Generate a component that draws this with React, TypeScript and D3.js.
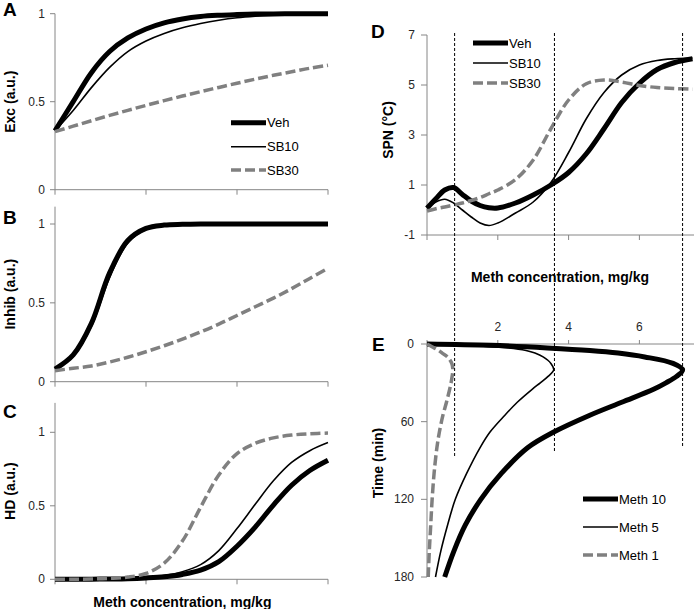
import React from "react";
import * as d3 from "d3";

// ---------- data ----------
const concGrid = [0, 0.5, 1, 1.5, 2, 2.5, 3, 3.5, 4, 4.5, 5, 5.5, 6, 6.5, 7, 7.5];
const excVeh = [0.335, 0.5, 0.665, 0.785, 0.862, 0.913, 0.948, 0.97, 0.984, 0.991, 0.995, 0.998, 0.999, 1.0, 1.0, 1.0];
const excSB10 = [0.335, 0.45, 0.58, 0.695, 0.785, 0.845, 0.888, 0.92, 0.944, 0.963, 0.977, 0.986, 0.992, 0.996, 0.999, 1.0];
const excSB30 = [0.33, 0.361, 0.392, 0.422, 0.451, 0.479, 0.506, 0.532, 0.557, 0.581, 0.605, 0.628, 0.65, 0.67, 0.69, 0.707];

const inhibVeh = [0.08, 0.17, 0.37, 0.69, 0.895, 0.972, 0.993, 0.998, 1.0, 1.0, 1.0, 1.0, 1.0, 1.0, 1.0, 1.0];
const inhibSB10 = [0.08, 0.16, 0.35, 0.66, 0.88, 0.965, 0.99, 0.997, 1.0, 1.0, 1.0, 1.0, 1.0, 1.0, 1.0, 1.0];
const inhibSB30 = [0.07, 0.085, 0.1, 0.125, 0.155, 0.19, 0.228, 0.27, 0.315, 0.365, 0.42, 0.475, 0.53, 0.59, 0.655, 0.72];

const hdVeh = [0, 0, 0.001, 0.002, 0.004, 0.009, 0.017, 0.033, 0.062, 0.12, 0.225, 0.355, 0.505, 0.64, 0.74, 0.81];
const hdSB10 = [0, 0, 0.001, 0.003, 0.005, 0.012, 0.026, 0.052, 0.1, 0.195, 0.345, 0.51, 0.67, 0.795, 0.875, 0.93];
const hdSB30 = [0, 0, 0.002, 0.006, 0.015, 0.04, 0.11, 0.26, 0.49, 0.71, 0.855, 0.925, 0.962, 0.981, 0.99, 0.995];

const spnGrid = [0, 0.25, 0.5, 0.75, 1, 1.25, 1.5, 1.75, 2, 2.5, 3, 3.5, 4, 4.5, 5, 5.5, 6, 6.5, 7, 7.5];
const spnVeh = [0.07, 0.45, 0.8, 0.9, 0.62, 0.36, 0.18, 0.09, 0.08, 0.28, 0.6, 1.0, 1.5, 2.25, 3.25, 4.3, 5.07, 5.62, 5.9, 6.05];
const spnSB10 = [0.07, 0.32, 0.43, 0.28, 0.0, -0.28, -0.52, -0.62, -0.52, -0.12, 0.32, 1.1, 2.3, 3.65, 4.7, 5.4, 5.8, 5.98, 6.05, 6.08];
const spnSB30 = [-0.04, 0.05, 0.12, 0.2, 0.28, 0.38, 0.5, 0.65, 0.8, 1.22, 2.0, 3.25, 4.4, 5.05, 5.2, 5.12, 4.98, 4.9, 4.86, 4.83];

const timeGrid = [0, 1, 3, 5, 7, 10, 15, 20, 25, 30, 35, 45, 55, 68, 80, 100, 120, 140, 160, 180];
const meth10 = [0, 1.8, 3.4, 4.6, 5.4, 6.15, 6.95, 7.22, 7.05, 6.75, 6.4, 5.5, 4.6, 3.58, 2.85, 2.1, 1.52, 1.08, 0.76, 0.5];
const meth5 = [0, 1.0, 2.3, 2.8, 3.05, 3.28, 3.5, 3.58, 3.42, 3.2, 2.97, 2.55, 2.2, 1.78, 1.5, 1.12, 0.8, 0.58, 0.39, 0.24];
const meth1 = [0, 0.07, 0.2, 0.33, 0.43, 0.58, 0.7, 0.73, 0.71, 0.68, 0.64, 0.55, 0.45, 0.35, 0.28, 0.2, 0.145, 0.105, 0.065, 0.035];

const peakConc = [0.78, 3.6, 7.22];
const peakLineEnd = [87, 83, 80];

const leftXTicks = [0, 2.5, 5, 7.5];
const unitTicks = [0, 0.5, 1];
const spnTicks = [-1, 1, 3, 5, 7];
const concTicks = [0, 2, 4, 6];
const concLabels = [2, 4, 6];
const timeTicks = [0, 60, 120, 180];

const seriesNames = ["Veh", "SB10", "SB30"];
const methNames = ["Meth 10", "Meth 5", "Meth 1"];

// ---------- styles ----------
const AXIS = "#868686";
const TICKTXT = "#262626";
const FONT = "'Liberation Sans', Arial, sans-serif";
const styles = [
  { stroke: "#000", width: 5, dash: undefined as string | undefined },
  { stroke: "#000", width: 1.6, dash: undefined as string | undefined },
  { stroke: "#808080", width: 3.5, dash: "10,4" },
];
const smooth = d3.curveCatmullRom.alpha(0.5);

function lineOn(xs: number[], ys: number[], xScale: any, yScale: any) {
  const pts = xs.map((x, i) => [x, ys[i]] as [number, number]);
  return d3.line<[number, number]>().x((d) => xScale(d[0])).y((d) => yScale(d[1])).curve(smooth)(pts) || "";
}

function LeftPanel(props: {
  yScale: any; top: number; series: number[][]; title: string; letter: string; letterY: number; xScale: any;
}) {
  const { yScale, top, series, title, letter, letterY, xScale } = props;
  const y0 = yScale(0);
  const x0 = xScale(0);
  const midY = (top + y0) / 2;
  return (
    <g>
      <text x={3} y={letterY} fontFamily={FONT} fontWeight="bold" fontSize={19}>{letter}</text>
      <text transform={`translate(15,${midY}) rotate(-90)`} textAnchor="middle" fontFamily={FONT} fontWeight="bold" fontSize={14}>{title}</text>
      <line x1={x0} x2={x0} y1={top} y2={y0} stroke={AXIS} />
      <line x1={x0} x2={xScale(7.5)} y1={y0} y2={y0} stroke={AXIS} />
      {unitTicks.map((t) => (
        <g key={t}>
          <line x1={x0 - 5} x2={x0} y1={yScale(t)} y2={yScale(t)} stroke={AXIS} />
          <text x={x0 - 10} y={yScale(t) + 4} textAnchor="end" fontFamily={FONT} fontSize={12} fill={TICKTXT}>{t}</text>
        </g>
      ))}
      {leftXTicks.map((t) => (
        <line key={t} x1={xScale(t)} x2={xScale(t)} y1={y0} y2={y0 + 5} stroke={AXIS} />
      ))}
      {series.map((s, i) => (
        <path key={i} d={lineOn(concGrid, s, xScale, yScale)} fill="none"
          stroke={styles[i].stroke} strokeWidth={styles[i].width} strokeDasharray={styles[i].dash} strokeLinejoin="round" />
      ))}
    </g>
  );
}

function Legend(props: { x: number; ys: number[]; names: string[] }) {
  const { x, ys, names } = props;
  return (
    <g>
      {names.map((n, i) => (
        <g key={n}>
          <line x1={x} x2={x + 35} y1={ys[i]} y2={ys[i]} stroke={styles[i].stroke} strokeWidth={styles[i].width} strokeDasharray={styles[i].dash} />
          <text x={x + 36} y={ys[i] + 4.5} fontFamily={FONT} fontSize={13} fill="#000">{n}</text>
        </g>
      ))}
    </g>
  );
}

export default function App() {
  const xL = d3.scaleLinear().domain([0, 7.5]).range([55, 328]);
  const yA = d3.scaleLinear().domain([0, 1]).range([189.7, 13.7]);
  const yB = d3.scaleLinear().domain([0, 1]).range([381.7, 224]);
  const yC = d3.scaleLinear().domain([0, 1]).range([579.3, 432.3]);

  const xR = d3.scaleLinear().domain([0, 7.5]).range([427, 692.5]);
  const yD = d3.scaleLinear().domain([-1, 7]).range([235, 35]);
  const yE = d3.scaleLinear().domain([0, 180]).range([344, 577]);

  const x0R = xR(0);

  return (
    <svg width={694} height={609} style={{ position: "absolute", left: 0, top: 0, background: "#fff" }}>
      <rect x={0} y={0} width={694} height={609} fill="#fff" />
      <LeftPanel yScale={yA} top={yA(1)} series={[excVeh, excSB10, excSB30]} title="Exc (a.u.)" letter="A" letterY={16} xScale={xL} />
      <LeftPanel yScale={yB} top={yB(1.11)} series={[inhibVeh, inhibSB10, inhibSB30]} title="Inhib (a.u.)" letter="B" letterY={224} xScale={xL} />
      <LeftPanel yScale={yC} top={yC(1.2)} series={[hdVeh, hdSB10, hdSB30]} title="HD (a.u.)" letter="C" letterY={418} xScale={xL} />
      <Legend x={231} ys={[122.7, 146.7, 170]} names={seriesNames} />
      <text x={xL(3.5)} y={607} textAnchor="middle" fontFamily={FONT} fontWeight="bold" fontSize={14}>Meth concentration, mg/kg</text>

      {/* Panel D */}
      <text x={371} y={38} fontFamily={FONT} fontWeight="bold" fontSize={19}>D</text>
      <text transform={`translate(393,${(yD(-1) + yD(7)) / 2 - 5}) rotate(-90)`} textAnchor="middle" fontFamily={FONT} fontWeight="bold" fontSize={14}>SPN (°C)</text>
      <line x1={x0R} x2={x0R} y1={yD(7)} y2={yD(-1)} stroke={AXIS} />
      <line x1={x0R} x2={694} y1={yD(-1)} y2={yD(-1)} stroke={AXIS} />
      {spnTicks.map((t) => (
        <g key={t}>
          <line x1={x0R - 6} x2={x0R} y1={yD(t)} y2={yD(t)} stroke={AXIS} />
          <text x={x0R - 12} y={yD(t) + 4} textAnchor="end" fontFamily={FONT} fontSize={12} fill={TICKTXT}>{t}</text>
        </g>
      ))}
      {concTicks.map((t) => (
        <line key={t} x1={xR(t)} x2={xR(t)} y1={yD(-1)} y2={yD(-1) + 5} stroke={AXIS} />
      ))}
      {[spnVeh, spnSB10, spnSB30].map((s, i) => (
        <path key={i} d={lineOn(spnGrid, s, xR, yD)} fill="none"
          stroke={styles[i].stroke} strokeWidth={styles[i].width} strokeDasharray={styles[i].dash} strokeLinejoin="round" />
      ))}
      <Legend x={473} ys={[43, 63, 83]} names={seriesNames} />
      <text x={560} y={282} textAnchor="middle" fontFamily={FONT} fontWeight="bold" fontSize={14}>Meth concentration, mg/kg</text>

      {/* Panel E */}
      <text x={372} y={351} fontFamily={FONT} fontWeight="bold" fontSize={19}>E</text>
      <text transform={`translate(383,463) rotate(-90)`} textAnchor="middle" fontFamily={FONT} fontWeight="bold" fontSize={14}>Time (min)</text>
      <line x1={x0R} x2={x0R} y1={yE(0)} y2={yE(180)} stroke={AXIS} />
      <line x1={x0R} x2={694} y1={yE(0)} y2={yE(0)} stroke={AXIS} />
      {timeTicks.map((t) => (
        <g key={t}>
          <line x1={x0R - 6} x2={x0R} y1={yE(t)} y2={yE(t)} stroke={AXIS} />
          <text x={x0R - 13} y={yE(t) + 4} textAnchor="end" fontFamily={FONT} fontSize={12} fill={TICKTXT}>{t}</text>
        </g>
      ))}
      {concTicks.map((t) => (
        <line key={t} x1={xR(t)} x2={xR(t)} y1={yE(0) - 4} y2={yE(0)} stroke={AXIS} />
      ))}
      {concLabels.map((t) => (
        <text key={t} x={xR(t)} y={yE(0) - 13} textAnchor="middle" fontFamily={FONT} fontSize={12} fill={TICKTXT}>{t}</text>
      ))}
      {[meth10, meth5, meth1].map((s, i) => (
        <path key={i} d={lineOn(s, timeGrid, xR, yE)} fill="none"
          stroke={styles[i].stroke} strokeWidth={styles[i].width} strokeDasharray={styles[i].dash} strokeLinejoin="round" />
      ))}
      <Legend x={583} ys={[499, 527, 555]} names={methNames} />

      {/* connecting peak lines */}
      {peakConc.map((c, i) => (
        <line key={i} x1={xR(c)} x2={xR(c)} y1={yD(7) - 2} y2={yE(peakLineEnd[i])} stroke="#000" strokeWidth={1} strokeDasharray="3,2" />
      ))}
    </svg>
  );
}
